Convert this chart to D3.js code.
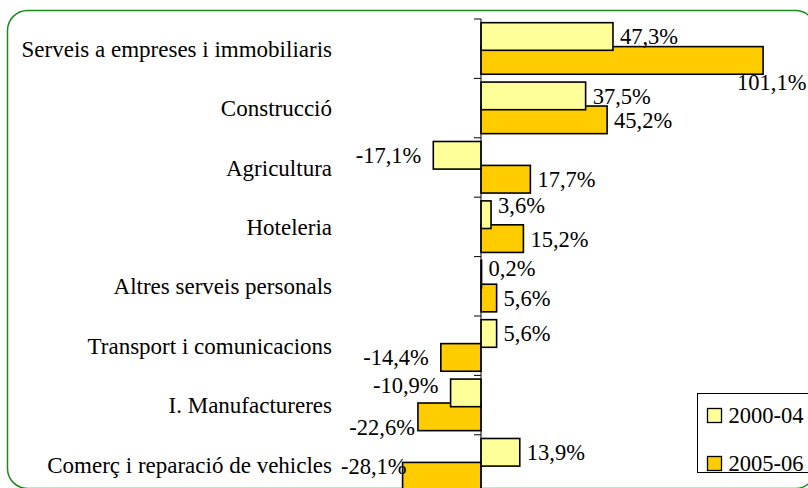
<!DOCTYPE html>
<html>
<head>
<meta charset="utf-8">
<script src="https://cdn.jsdelivr.net/npm/d3@7"></script>
<style>
  html, body { margin: 0; padding: 0; background: #fff; }
</style>
</head>
<body>
<svg id="chart" width="808" height="488"></svg>
<script>
// sectors, top to bottom
var sectors = [
  "Serveis a empreses i immobiliaris",
  "Construcció",
  "Agricultura",
  "Hoteleria",
  "Altres serveis personals",
  "Transport i comunicacions",
  "I. Manufactureres",
  "Comerç i reparació de vehicles"
];
var seriesNames = ["2000-04", "2005-06"];
var values2000_04 = [47.3, 37.5, -17.1, 3.6, 0.2, 5.6, -10.9, 13.9];
var values2005_06 = [101.1, 45.2, 17.7, 15.2, 5.6, -14.4, -22.6, -28.1];
var seriesColors = ["#ffff99", "#ffcc00"];

var serif = "'Liberation Serif', 'Times New Roman', Times, 'DejaVu Serif', serif";

var svg = d3.select("#chart")
  .attr("font-family", serif);

// rounded green frame
svg.append("rect")
  .attr("x", 7.5)
  .attr("y", 10.5)
  .attr("width", 808)
  .attr("height", 478)
  .attr("rx", 20)
  .attr("fill", "none")
  .attr("stroke", "#1a8a1a")
  .attr("stroke-width", 1.5);

var x = d3.scaleLinear().domain([0, 100]).range([481, 760]);
var y = d3.scaleBand().domain(sectors).range([19, 19 + 8 * 59.4]).padding(0);
var bw = y.bandwidth();
var barH = bw * 0.465;

var rows = sectors.map(function(s, i) {
  return { sector: s, a: values2000_04[i], b: values2005_06[i] };
});

var fmt = function(v) {
  return v.toFixed(1).replace(".", ",") + "%";
};

// hand placed labels where Excel moved them
var nudge = {
  "b0": { dx: -33, dy: 22 },
  "a3": { dx: 0, dy: -10 },
  "a4": { dx: 0, dy: -6 },
  "a6": { dx: 0, dy: -8 },
  "b6": { dx: 9, dy: 10 },
  "b7": { dx: 16, dy: -10 }
};

var g = svg.append("g");

// 2005-06 drawn first so 2000-04 sits on top
[["b", 1, barH], ["a", 0, bw * 0.062]].forEach(function(cfg) {
  var key = cfg[0], si = cfg[1], off = cfg[2];
  g.selectAll(".bar-" + key)
    .data(rows)
    .enter()
    .append("rect")
    .attr("class", "bar-" + key)
    .attr("x", function(d) { return Math.min(x(0), x(d[key])); })
    .attr("y", function(d) { return y(d.sector) + off; })
    .attr("width", function(d) { return Math.abs(x(d[key]) - x(0)); })
    .attr("height", barH)
    .attr("fill", seriesColors[si])
    .attr("stroke", "#000")
    .attr("stroke-width", 1.6);
});

// category axis
var axis = svg.append("g")
  .attr("transform", "translate(" + x(0) + ",0)");
axis.append("line")
  .attr("x1", 0).attr("x2", 0)
  .attr("y1", 19).attr("y2", 500)
  .attr("stroke", "#000")
  .attr("stroke-width", 1);
axis.selectAll(".tick")
  .data(sectors)
  .enter()
  .append("line")
  .attr("x1", -7).attr("x2", 0)
  .attr("y1", function(d) { return y(d); })
  .attr("y2", function(d) { return y(d); })
  .attr("stroke", "#000");

svg.selectAll(".cat")
  .data(sectors)
  .enter()
  .append("text")
  .attr("class", "cat")
  .attr("x", 332)
  .attr("y", function(d) { return y(d) + bw / 2; })
  .attr("dy", "0.35em")
  .attr("text-anchor", "end")
  .attr("font-size", 23)
  .text(function(d) { return d; });

// value labels
[["a", bw * 0.062], ["b", barH]].forEach(function(cfg) {
  var key = cfg[0], off = cfg[1];
  svg.selectAll(".lab-" + key)
    .data(rows)
    .enter()
    .append("text")
    .attr("class", "lab-" + key)
    .attr("x", function(d, i) {
      var n = nudge[key + i] || { dx: 0 };
      return (d[key] < 0 ? x(d[key]) - 12 : x(d[key]) + 7) + n.dx;
    })
    .attr("y", function(d, i) {
      var n = nudge[key + i] || { dy: 0 };
      return y(d.sector) + off + barH / 2 + n.dy;
    })
    .attr("dy", "0.35em")
    .attr("text-anchor", function(d) { return d[key] < 0 ? "end" : "start"; })
    .attr("font-size", 22.5)
    .text(function(d) { return fmt(d[key]); });
});

// legend
var legend = svg.append("g").attr("transform", "translate(697.5,393.5)");
legend.append("rect")
  .attr("width", 130)
  .attr("height", 79)
  .attr("fill", "#fff")
  .attr("stroke", "#000")
  .attr("stroke-width", 1);
seriesNames.forEach(function(name, i) {
  legend.append("rect")
    .attr("x", 10)
    .attr("y", 15 + i * 48)
    .attr("width", 14)
    .attr("height", 14)
    .attr("fill", seriesColors[i])
    .attr("stroke", "#000")
    .attr("stroke-width", 1.3);
  legend.append("text")
    .attr("x", 31)
    .attr("y", 22 + i * 48)
    .attr("dy", "0.35em")
    .attr("font-size", 22.5)
    .text(name);
});
</script>
</body>
</html>
